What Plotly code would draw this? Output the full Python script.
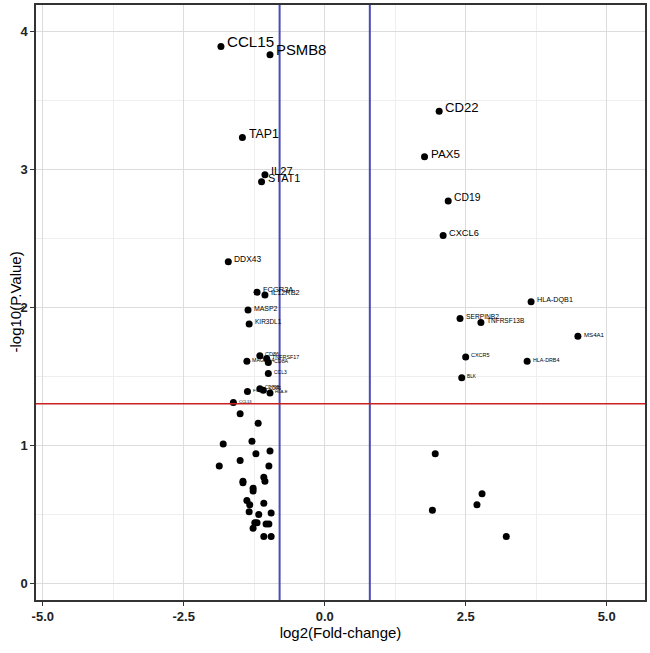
import plotly.graph_objects as go

# ---- data ----
labeled_genes = ["CCL15", "PSMB8", "CD22", "TAP1", "PAX5", "IL27", "STAT1", "CD19", "CXCL6",
                 "DDX43", "FCGR3A", "IL12RB2", "MASP2", "KIR3DL1", "HLA-DQB1", "SERPINB2",
                 "TNFRSF13B", "MS4A1", "CXCR5", "HLA-DRB4", "BLK",
                 "MAGEA4", "CD86", "TNFRSF17", "CD8A", "CCL3",
                 "FCRL5", "CD79B", "CD3G", "HLA-E", "CCL13"]
labeled_fc = [-1.84, -0.97, 2.03, -1.46, 1.77, -1.06, -1.12, 2.19, 2.10,
              -1.71, -1.20, -1.06, -1.36, -1.34, 3.66, 2.40,
              2.77, 4.49, 2.50, 3.59, 2.43,
              -1.38, -1.15, -1.03, -1.00, -1.00,
              -1.37, -1.15, -1.09, -0.97, -1.62]
labeled_p = [3.89, 3.83, 3.42, 3.23, 3.09, 2.96, 2.91, 2.77, 2.52,
             2.33, 2.11, 2.09, 1.98, 1.88, 2.04, 1.92,
             1.89, 1.79, 1.64, 1.61, 1.49,
             1.61, 1.65, 1.63, 1.60, 1.52,
             1.39, 1.41, 1.40, 1.38, 1.31]

other_fc = [-1.50, -1.18, -1.80, -1.29, -1.22, -0.97, -1.50, -1.87, -0.99, -1.45,
            -1.45, -1.08, -1.06, -1.27, -1.27, -1.38, -1.33, -1.08, -1.34, -1.17,
            -0.95, -1.24, -1.20, -1.27, -1.04, -0.99, -1.08, -0.95,
            1.96, 2.79, 2.70, 1.91, 3.22]
other_p = [1.23, 1.16, 1.01, 1.03, 0.94, 0.96, 0.89, 0.85, 0.85, 0.74,
           0.73, 0.77, 0.74, 0.69, 0.67, 0.60, 0.57, 0.58, 0.52, 0.50,
           0.51, 0.44, 0.44, 0.40, 0.43, 0.43, 0.34, 0.34,
           0.94, 0.65, 0.57, 0.53, 0.34]

fc_threshold = 0.8
p_threshold = 1.301

x_ticks = [-5.0, -2.5, 0.0, 2.5, 5.0]
x_tick_labels = ["-5.0", "-2.5", "0.0", "2.5", "5.0"]
y_ticks = [0, 1, 2, 3, 4]
y_tick_labels = ["0", "1", "2", "3", "4"]

FONT = "Liberation Sans, Arial, sans-serif"

fig = go.Figure()
fig.add_trace(go.Scatter(x=other_fc, y=other_p, mode="markers",
                         marker=dict(color="black", size=7), hoverinfo="skip",
                         showlegend=False))
fig.add_trace(go.Scatter(x=labeled_fc, y=labeled_p, mode="markers",
                         marker=dict(color="black", size=7), text=labeled_genes,
                         showlegend=False))

annotations = []
for g, xv, yv in zip(labeled_genes, labeled_fc, labeled_p):
    size = max(4.0, 4 + (yv - 1.3) * 4.3)
    annotations.append(dict(x=xv, y=yv, text=g, showarrow=False, xanchor="left",
                            yanchor="middle", xshift=3 + 0.1 * size, yshift=0.3 * size,
                            font=dict(family=FONT, size=size, color="black")))

annotations.append(dict(x=0, y=0.5, xref="paper", yref="paper", text="-log10(P.Value)",
                        textangle=-90, showarrow=False, xanchor="center", yanchor="middle",
                        xshift=-21, font=dict(family=FONT, size=15, color="black")))

fig.add_shape(type="line", x0=-fc_threshold, x1=-fc_threshold, y0=0, y1=1, yref="paper",
              line=dict(color="#4a4ab8", width=2))
fig.add_shape(type="line", x0=fc_threshold, x1=fc_threshold, y0=0, y1=1, yref="paper",
              line=dict(color="#4a4ab8", width=2))
fig.add_shape(type="line", x0=0, x1=1, xref="paper", y0=p_threshold, y1=p_threshold,
              line=dict(color="#cc2020", width=1.5))

axis_common = dict(showline=True, linecolor="#333333", linewidth=1.5, mirror=True,
                   ticks="outside", ticklen=4, tickcolor="#333333", tickwidth=1.2,
                   showgrid=True, gridcolor="#dcdcdc", gridwidth=1, zeroline=False,
                   tickfont=dict(family=FONT, size=13, color="#222222", weight="bold"))

fig.update_layout(
    width=650, height=653,
    margin=dict(l=36, r=5, t=3, b=53),
    paper_bgcolor="white", plot_bgcolor="white",
    xaxis=dict(range=[-5.12, 5.68], tickvals=x_ticks, ticktext=x_tick_labels,
               minor=dict(dtick=1.25, tick0=0, showgrid=True, gridcolor="#efefef", ticks=""),
               title=dict(text="log2(Fold-change)", standoff=4,
                          font=dict(family=FONT, size=15, color="black")),
               **axis_common),
    yaxis=dict(range=[-0.12, 4.19], tickvals=y_ticks, ticktext=y_tick_labels,
               minor=dict(dtick=0.5, tick0=0, showgrid=True, gridcolor="#efefef", ticks=""),
               **axis_common),
    annotations=annotations,
)

fig.write_html("out.html", config={"displayModeBar": False},
               post_script="document.body.style.margin='0px';document.body.style.overflow='hidden';")
